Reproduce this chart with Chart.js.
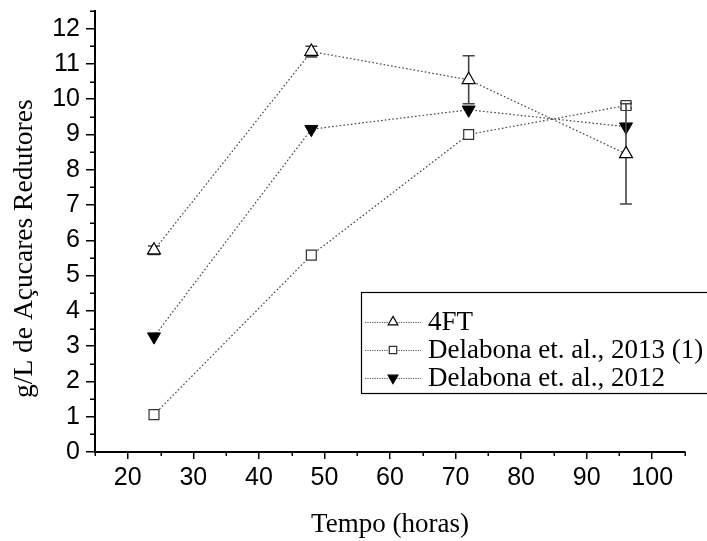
<!DOCTYPE html>
<html><head><meta charset="utf-8">
<script src="https://cdn.jsdelivr.net/npm/chart.js@4"></script>
<style>html,body{margin:0;padding:0;background:#fff}canvas{display:block}</style>
</head><body>
<canvas id="c" width="707" height="541"></canvas>
<script>
// ---- data ----
const tempo = [24, 48, 72, 96];
const nome4FT = '4FT';
const nome2013 = 'Delabona et. al., 2013 (1)';
const nome2012 = 'Delabona et. al., 2012';
const serie4FT = [5.72, 11.35, 10.55, 8.45];
const erro4FT = [0.12, 0.15, 0.68, 1.42];
const serie2013 = [1.06, 5.58, 9.0, 9.82];
const erro2013 = [0, 0, 0, 0.08];
const serie2012 = [3.27, 9.15, 9.7, 9.22];
const erro2012 = [0, 0, 0, 0];
const xTicks = [20, 30, 40, 50, 60, 70, 80, 90, 100];
const xMinor = [15, 25, 35, 45, 55, 65, 75, 85, 95, 105];
const yTicks = [0, 1, 2, 3, 4, 5, 6, 7, 8, 9, 10, 11, 12];
const yMinor = [0.5, 1.5, 2.5, 3.5, 4.5, 5.5, 6.5, 7.5, 8.5, 9.5, 10.5, 11.5, 12.5];
const tituloX = 'Tempo (horas)';
const tituloY = 'g/L de Açucares Redutores';

const pts = (ys) => tempo.map((x, i) => ({x: x, y: ys[i]}));
const erros = [erro4FT, erro2013, erro2012];

const lineStyle = {borderColor: '#444', borderWidth: 1.2, borderDash: [1.6, 2.2], fill: false, tension: 0};

const errorBars = {
  id: 'errorBars',
  beforeDatasetDraw(chart, args) {
    const err = erros[args.index];
    if (!err) return;
    const ctx = chart.ctx, y = chart.scales.y;
    ctx.save();
    ctx.strokeStyle = '#444';
    ctx.lineWidth = 1.6;
    args.meta.data.forEach((p, i) => {
      const e = err[i];
      if (!e) return;
      const v = chart.data.datasets[args.index].data[i].y;
      const yt = y.getPixelForValue(v + e), yb = y.getPixelForValue(v - e);
      ctx.beginPath();
      ctx.moveTo(p.x, yt); ctx.lineTo(p.x, yb);
      ctx.moveTo(p.x - 6, yt); ctx.lineTo(p.x + 6, yt);
      ctx.moveTo(p.x - 6, yb); ctx.lineTo(p.x + 6, yb);
      ctx.stroke();
    });
    ctx.restore();
  }
};

const minorTicks = {
  id: 'minorTicks',
  afterDraw(chart) {
    const ctx = chart.ctx, xs = chart.scales.x, ys = chart.scales.y;
    const a = chart.chartArea;
    ctx.save();
    ctx.strokeStyle = '#000';
    ctx.lineWidth = 1.5;
    ctx.beginPath();
    xMinor.forEach(v => {
      const px = Math.round(xs.getPixelForValue(v)) + 0.25;
      ctx.moveTo(px, a.bottom); ctx.lineTo(px, a.bottom + 4);
    });
    yMinor.forEach(v => {
      const py = Math.round(ys.getPixelForValue(v)) + 0.25;
      ctx.moveTo(a.left, py); ctx.lineTo(a.left - 5, py);
    });
    ctx.stroke();
    ctx.restore();
  }
};

const boxLegend = {
  id: 'boxLegend',
  afterDraw(chart) {
    const ctx = chart.ctx;
    ctx.save();
    ctx.strokeStyle = '#000';
    ctx.lineWidth = 1.2;
    ctx.strokeRect(361.5, 292.5, 400, 101);
    const rows = [322, 350, 378];
    chart.data.datasets.forEach((ds, i) => {
      const yy = rows[i];
      ctx.save();
      ctx.strokeStyle = '#555';
      ctx.lineWidth = 1;
      ctx.setLineDash([1.2, 1.2]);
      ctx.beginPath(); ctx.moveTo(365, yy + 0.5); ctx.lineTo(421, yy + 0.5); ctx.stroke();
      ctx.restore();
      ctx.fillStyle = ds.pointBackgroundColor;
      ctx.strokeStyle = ds.pointBorderColor;
      ctx.lineWidth = 1.2;
      Chart.helpers.drawPoint(ctx, {pointStyle: ds.pointStyle, rotation: ds.pointRotation || 0, radius: ds.pointRadius * 0.75, borderWidth: 1.2}, 393, yy);
      ctx.fillStyle = '#000';
      ctx.font = '27px "Liberation Serif", "Times New Roman", serif';
      ctx.textBaseline = 'middle';
      ctx.textAlign = 'left';
      ctx.fillText(ds.label, 428, yy + 1);
    });
    ctx.restore();
  }
};

new Chart(document.getElementById('c'), {
  type: 'line',
  data: {
    datasets: [
      Object.assign({label: nome4FT, data: pts(serie4FT), pointStyle: 'triangle', pointRadius: 7.5,
        pointBackgroundColor: '#fff', pointBorderColor: '#000', pointBorderWidth: 1.2}, lineStyle),
      Object.assign({label: nome2013, data: pts(serie2013), pointStyle: 'rect', pointRadius: 7,
        pointBackgroundColor: '#fff', pointBorderColor: '#333', pointBorderWidth: 1.2}, lineStyle),
      Object.assign({label: nome2012, data: pts(serie2012), pointStyle: 'triangle', pointRotation: 180, pointRadius: 7.5,
        pointBackgroundColor: '#000', pointBorderColor: '#000', pointBorderWidth: 1}, lineStyle)
    ]
  },
  options: {
    responsive: false,
    animation: false,
    devicePixelRatio: 1,
    layout: {padding: {top: 11, right: 22, left: 0, bottom: 0}},
    plugins: {legend: {display: false}, tooltip: {enabled: false}},
    scales: {
      x: {
        type: 'linear', min: 15, max: 105,
        afterBuildTicks: s => { s.ticks = xTicks.map(v => ({value: v})); },
        afterFit: s => { s.height = 89; s.paddingLeft = 0; s.paddingRight = 0; },
        ticks: {color: '#000', font: {family: '"Liberation Sans", Arial, sans-serif', size: 25}, padding: 4, maxRotation: 0, autoSkip: false},
        grid: {drawOnChartArea: false, drawTicks: true, tickLength: 7, color: '#000', lineWidth: 1.5},
        border: {display: true, color: '#000', width: 2},
        title: {display: true, text: tituloX, color: '#000', font: {family: '"Liberation Serif", "Times New Roman", serif', size: 27}, padding: {top: 0, bottom: 0}}
      },
      y: {
        type: 'linear', min: 0, max: 12.5,
        afterBuildTicks: s => { s.ticks = yTicks.map(v => ({value: v})); },
        afterFit: s => { s.width = 95; s.paddingTop = 0; s.paddingBottom = 0; },
        ticks: {color: '#000', font: {family: '"Liberation Sans", Arial, sans-serif', size: 25}, padding: 6, autoSkip: false},
        grid: {drawOnChartArea: false, drawTicks: true, tickLength: 9, color: '#000', lineWidth: 1.5},
        border: {display: true, color: '#000', width: 2},
        title: {display: true, text: tituloY + '     ', color: '#000', font: {family: '"Liberation Serif", "Times New Roman", serif', size: 27.5}, padding: {top: 8, bottom: 0}}
      }
    }
  },
  plugins: [errorBars, minorTicks, boxLegend]
});
</script>
</body></html>
